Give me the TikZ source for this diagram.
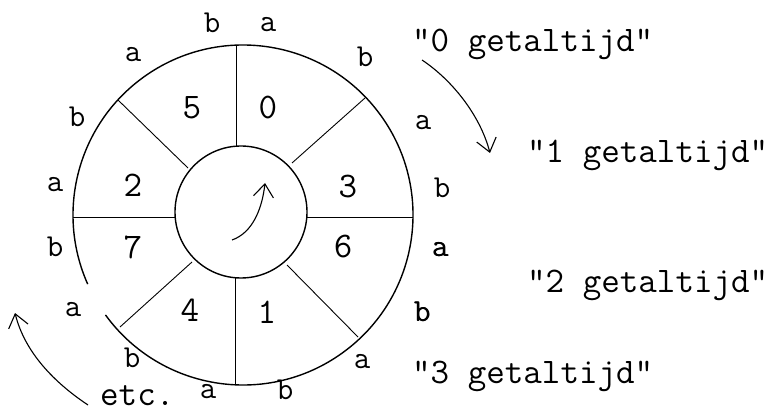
\documentclass[tikz,border=0pt]{standalone}
\usepackage{fontspec}
\usetikzlibrary{arrows.meta}
\begin{document}
\begin{tikzpicture}[x=1pt,y=1pt,
  ring/.style={line width=1.4pt},
  spoke/.style={line width=0.9pt},
  lab/.style={font=\ttfamily\fontsize{32}{34}\selectfont, inner sep=0pt},
  num/.style={font=\ttfamily\fontsize{36}{38}\selectfont, inner sep=0pt},
  phrase/.style={font=\ttfamily\fontsize{36}{38}\selectfont, inner sep=0pt, anchor=base west},
  hand/.style={line width=1.1pt, -{Straight Barb[length=13pt,width=20pt,line width=1.1pt]}}
]
\useasboundingbox (0,0) rectangle (778,415);
\coordinate (O) at (243,200);
\coordinate (I) at (241,203);
% outer ring with a gap on the lower left
\begin{scope}[shift={(O)}]
  \draw[ring] (216:170) arc[start angle=216,end angle=564,radius=170];
\end{scope}
% inner circle
\draw[ring] (I) circle[radius=66];
% spokes
\draw[spoke] (236,369) -- (236,268);
\draw[spoke] (235,137) -- (235,31);
\draw[spoke] (73,198) -- (175,198);
\draw[spoke] (307,198) -- (413,198);
\draw[spoke] (365,317) -- (292,252);
\draw[spoke] (118,315) -- (188,247);
\draw[spoke] (192,153) -- (120,88);
\draw[spoke] (287,150) -- (358,78);
% sector numbers
\node[num] (n5) at (192,307) {5};
\node[num] (n0) at (268,307) {0};
\node[num] (n3) at (348,228) {3};
\node[num] (n2) at (133,230) {2};
\node[num] (n7) at (133,168) {7};
\node[num] (n6) at (343,168) {6};
\node[num] (n4) at (190,105) {4};
\node[num] (n1) at (267,103) {1};
% a/b labels around the ring
\node[lab] (l1) at (212,392) {b};
\node[lab] (l2) at (268,390) {a};
\node[lab] (l3) at (365,358) {b};
\node[lab] (l4) at (423,292) {a};
\node[lab] (l5) at (442,227) {b};
\node[lab] (l6) at (440,165) {a};
\node[lab] (l6b) at (440.6,165) {a};
\node[lab] (l7) at (422,103) {b};
\node[lab] (l7b) at (422.6,103) {b};
\node[lab] (l8) at (362,53) {a};
\node[lab] (l9) at (285,25) {b};
\node[lab] (l10) at (208,23) {a};
\node[lab] (l11) at (132,57) {b};
\node[lab] (l12) at (73,105) {a};
\node[lab] (l13) at (55,168) {b};
\node[lab] (l14) at (55,230) {a};
\node[lab] (l15) at (77,298) {b};
\node[lab] (l16) at (133,360) {a};
% time labels
\node[phrase] (t0) at (412,363) {"0 getaltijd"};
\node[phrase] (t1) at (527,252) {"1 getaltijd"};
\node[phrase] (t2) at (527,123) {"2 getaltijd"};
\node[phrase] (t3) at (412,32) {"3 getaltijd"};
\node[num, anchor=base west] (etc) at (100,10) {etc.};
% arrows
\coordinate (a0s) at (422,355);
\coordinate (a0e) at (490,262);
\draw[hand] (a0s) .. controls (452,335) and (480,300) .. (a0e);
\coordinate (ais) at (232,175);
\coordinate (aie) at (265,232);
\draw[hand] (ais) .. controls (252,182) and (262,205) .. (aie);
\coordinate (aes) at (88,10);
\coordinate (aee) at (15,102);
\draw[hand] (aes) .. controls (55,32) and (25,62) .. (aee);
\end{tikzpicture}
\end{document}
